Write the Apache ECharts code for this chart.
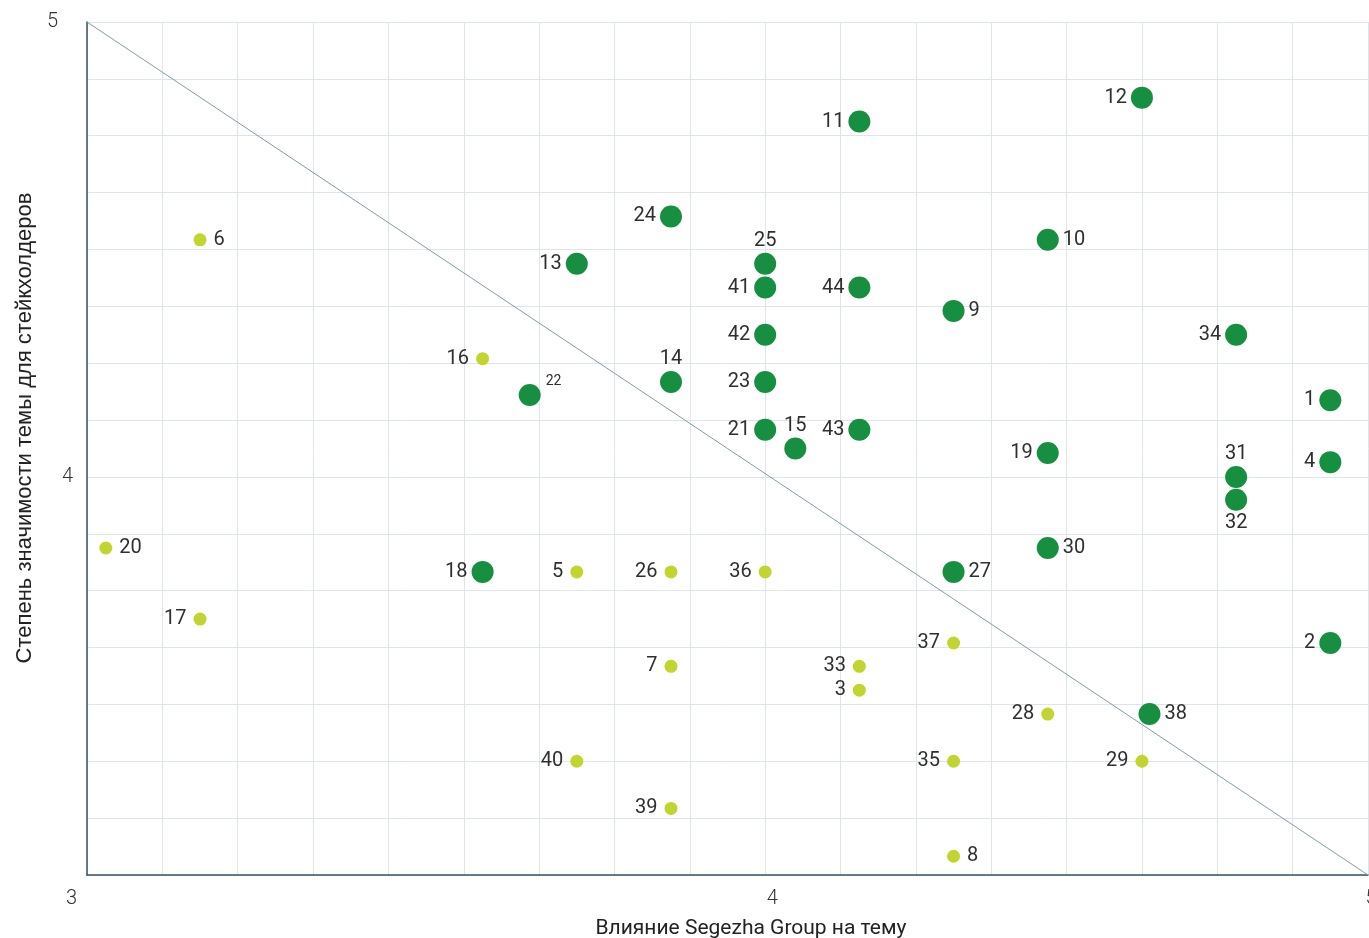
<!DOCTYPE html>
<html>
<head>
<meta charset="utf-8">
<title>Матрица существенности</title>
<script src="https://cdn.jsdelivr.net/npm/echarts@6/dist/echarts.min.js"></script>
<style>
  html, body { margin: 0; padding: 0; background: #fff; }
  #chart { width: 1369px; height: 938px; }
</style>
</head>
<body>
<div id="chart"></div>
<script>
// номера тем и их оценки
const topicIds = [1, 2, 3, 4, 5, 6, 7, 8, 9, 10, 11, 12, 13, 14, 15, 16, 17, 18, 19, 20, 21, 22,
  23, 24, 25, 26, 27, 28, 29, 30, 31, 32, 33, 34, 35, 36, 37, 38, 39, 40, 41, 42, 43, 44]
// влияние Segezha Group (ось X)
const influence = [4.75, 4.75, 4.125, 4.75, 3.75, 3.25, 3.875, 4.25, 4.25, 4.375, 4.125, 4.5, 3.75, 3.875, 4.04, 3.625, 3.25, 3.625, 4.375, 3.125, 4.0, 3.6875,
  4.0, 3.875, 4.0, 3.875, 4.25, 4.375, 4.5, 4.375, 4.625, 4.625, 4.125, 4.625, 4.25, 4.0, 4.25, 4.51, 3.875, 3.75, 4.0, 4.0, 4.125, 4.125]
// значимость для стейкхолдеров (ось Y)
const importance = [4.135, 3.708, 3.625, 4.026, 3.833, 4.417, 3.667, 3.333, 4.292, 4.417, 4.625, 4.667, 4.375, 4.167, 4.05, 4.208, 3.75, 3.833, 4.042, 3.875, 4.083, 4.144,
  4.167, 4.458, 4.375, 3.833, 3.833, 3.583, 3.5, 3.875, 4.0, 3.96, 3.667, 4.25, 3.5, 3.833, 3.708, 3.583, 3.417, 3.5, 4.333, 4.25, 4.083, 4.333]
// существенная тема (1) или нет (0)
const material = [1, 1, 0, 1, 0, 0, 0, 0, 1, 1, 1, 1, 1, 1, 1, 0, 0, 1, 1, 0, 1, 1,
  1, 1, 1, 0, 1, 0, 0, 1, 1, 1, 0, 1, 0, 0, 0, 1, 0, 0, 1, 1, 1, 1]

const xRange = [3.1, 4.8]
const yRange = [3.3, 4.8]
const tickStep = 0.1

// где подписи стоят не слева от точки
const labelRight = [6, 8, 9, 10, 20, 27, 30, 38]
const labelTop = [14, 15, 25, 31]
const labelBottom = [32]

const near = (a, b) => Math.abs(a - b) < 1e-6

const makeLabel = (id, small) => {
  const base = {
    show: true,
    formatter: String(id),
    fontFamily: 'Roboto',
    fontSize: 20,
    color: '#2f2f2f',
    distance: small ? 7 : 4
  }
  if (id === 22) {
    return { ...base, position: 'right', fontSize: 14, offset: [0, -14], distance: 5 }
  }
  if (labelRight.includes(id)) return { ...base, position: 'right' }
  if (labelTop.includes(id)) return { ...base, position: 'top', distance: 2 }
  if (labelBottom.includes(id)) return { ...base, position: 'bottom', distance: 2 }
  return { ...base, position: 'left' }
}

const buildPoints = (flag) => {
  const out = []
  topicIds.forEach((id, i) => {
    if (material[i] !== flag) return
    out.push({
      value: [influence[i], importance[i]],
      label: makeLabel(id, flag === 0)
    })
  })
  return out
}

const chartInstance = echarts.init(document.getElementById('chart'))

const option = {
  animation: false,
  grid: {
    left: 87,
    right: 1,
    top: 22,
    bottom: 63,
    containLabel: false,
    outerBoundsMode: 'none'
  },
  xAxis: {
    type: 'value',
    min: xRange[0],
    max: xRange[1],
    interval: tickStep,
    name: 'Влияние Segezha Group на тему',
    nameLocation: 'middle',
    nameGap: 43,
    nameTextStyle: {
      fontFamily: 'Roboto',
      fontSize: 21,
      color: '#222',
      padding: [0, 0, 0, 47]
    },
    axisLine: { show: true, lineStyle: { color: '#35535d', width: 1.5 } },
    axisTick: { show: false },
    splitLine: { show: true, lineStyle: { color: '#dde4ea', width: 1 } },
    axisLabel: {
      showMinLabel: true,
      showMaxLabel: true,
      margin: 14,
      fontFamily: 'Roboto',
      fontWeight: 300,
      fontSize: 20,
      color: '#333',
      formatter: (v) => {
        if (near(v, xRange[0])) return '{l|3}'
        if (near(v, 4)) return '{m|4}'
        if (near(v, xRange[1])) return '{r|5}'
        return ''
      },
      rich: {
        l: { padding: [0, 31, 0, 0] },
        m: { padding: [0, 0, 0, 14] },
        r: { padding: [0, 0, 0, 6] }
      }
    }
  },
  yAxis: {
    type: 'value',
    min: yRange[0],
    max: yRange[1],
    interval: tickStep,
    name: 'Степень значимости темы для стейкхолдеров',
    nameLocation: 'middle',
    nameGap: 50,
    nameTextStyle: {
      fontFamily: 'Liberation Sans',
      fontSize: 22,
      color: '#222',
      padding: [0, 0, 0, 41]
    },
    axisLine: { show: true, lineStyle: { color: '#35535d', width: 1.5 } },
    axisTick: { show: false },
    splitLine: { show: true, lineStyle: { color: '#dde4ea', width: 1 } },
    axisLabel: {
      showMinLabel: true,
      showMaxLabel: true,
      margin: 14,
      fontFamily: 'Roboto',
      fontWeight: 300,
      fontSize: 20,
      color: '#333',
      formatter: (v) => {
        if (near(v, yRange[1])) return '{t|5}'
        if (near(v, 4)) return '4'
        return ''
      },
      rich: {
        t: { padding: [0, 15, 0, 0] }
      }
    }
  },
  series: [
    {
      name: 'diagonal',
      type: 'line',
      data: [[xRange[0], yRange[1]], [xRange[1], yRange[0]]],
      symbol: 'none',
      silent: true,
      lineStyle: { color: '#7f9bab', width: 1 },
      z: 1
    },
    {
      name: 'other',
      type: 'scatter',
      symbolSize: 13,
      itemStyle: { color: '#c1d52e', opacity: 1 },
      data: buildPoints(0),
      z: 2
    },
    {
      name: 'material',
      type: 'scatter',
      symbolSize: 22,
      itemStyle: { color: '#178f41', opacity: 1 },
      data: buildPoints(1),
      z: 3
    }
  ]
}

chartInstance.setOption(option)

window.addEventListener('resize', () => {
  chartInstance?.resize()
})
</script>
</body>
</html>
